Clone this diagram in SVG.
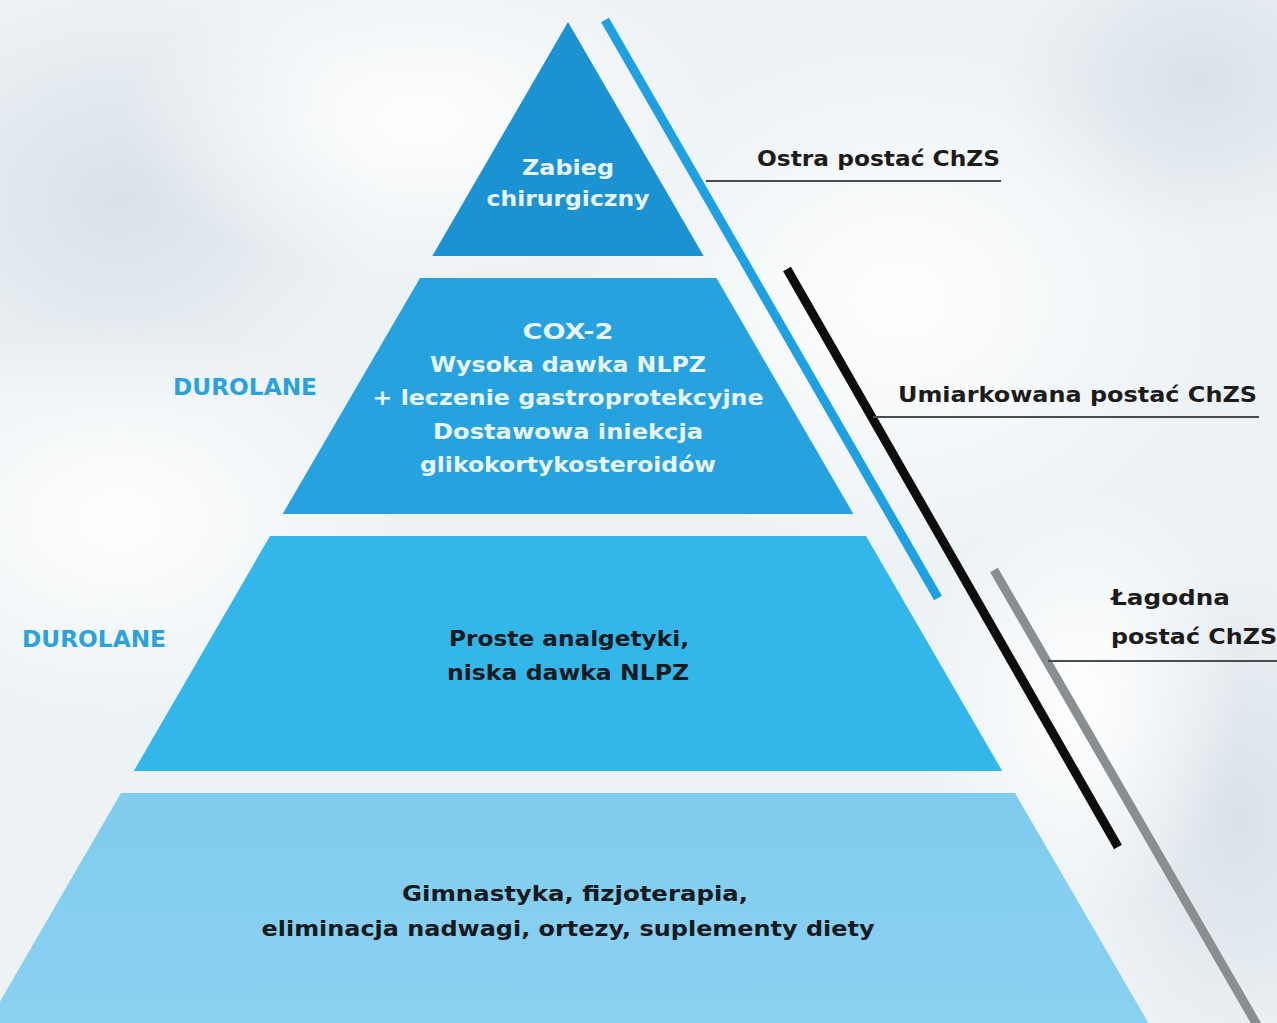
<svg xmlns="http://www.w3.org/2000/svg" width="1277" height="1023" viewBox="0 0 1277 1023">
  <defs>
    <radialGradient id="bgA" cx="0.5" cy="0.5" r="0.5">
      <stop offset="0" stop-color="#ffffff" stop-opacity="0.95"/>
      <stop offset="1" stop-color="#ffffff" stop-opacity="0"/>
    </radialGradient>
    <radialGradient id="bgB" cx="0.5" cy="0.5" r="0.5">
      <stop offset="0" stop-color="#d6dfe6" stop-opacity="0.85"/>
      <stop offset="1" stop-color="#d6dfe6" stop-opacity="0"/>
    </radialGradient>
    <linearGradient id="t4" x1="0" y1="0" x2="0" y2="1">
      <stop offset="0" stop-color="#80ccee"/>
      <stop offset="1" stop-color="#8ad1f1"/>
    </linearGradient>
    <style>
      .tier-w { font-family: "DejaVu Sans", "Liberation Sans", sans-serif; font-weight: bold; font-size: 22px; fill: #e8f5fc; text-anchor: middle; }
      .tier-k { font-family: "DejaVu Sans", "Liberation Sans", sans-serif; font-weight: bold; font-size: 22px; fill: #151a20; text-anchor: middle; }
      .brand { font-family: "DejaVu Sans", "Liberation Sans", sans-serif; font-weight: bold; font-size: 23px; fill: #2aa2dc; }
      .label { font-family: "DejaVu Sans", "Liberation Sans", sans-serif; font-weight: bold; font-size: 22px; fill: #1c1c1c; }
      .lead { stroke: #4a4d50; stroke-width: 2; fill: none; }
      .bar { fill: none; stroke-width: 9; stroke-linecap: butt; }
    </style>
  </defs>

  <!-- background -->
  <rect x="0" y="0" width="1277" height="1023" fill="#edf2f5"/>
  <ellipse cx="120" cy="200" rx="260" ry="220" fill="url(#bgB)"/>
  <ellipse cx="420" cy="120" rx="300" ry="160" fill="url(#bgA)"/>
  <ellipse cx="120" cy="520" rx="280" ry="200" fill="url(#bgA)"/>
  <ellipse cx="900" cy="300" rx="320" ry="260" fill="url(#bgA)"/>
  <ellipse cx="1200" cy="80" rx="200" ry="160" fill="url(#bgB)"/>
  <ellipse cx="1240" cy="820" rx="160" ry="260" fill="url(#bgB)"/>
  <ellipse cx="1080" cy="700" rx="160" ry="220" fill="url(#bgA)"/>

  <!-- pyramid tiers -->
  <g id="tier1">
    <polygon points="568,22 703.7,256 432.3,256" fill="#1b93d3"/>
    <text class="tier-w" x="568" y="175" textLength="92" lengthAdjust="spacingAndGlyphs">Zabieg</text>
    <text class="tier-w" x="568" y="206" textLength="163" lengthAdjust="spacingAndGlyphs">chirurgiczny</text>
  </g>
  <g id="tier2">
    <polygon points="420,278 716.5,278 853.4,514 282.6,514" fill="#26a2de"/>
    <text class="tier-w" x="568" y="339" textLength="91" lengthAdjust="spacingAndGlyphs">COX-2</text>
    <text class="tier-w" x="568" y="372" textLength="276" lengthAdjust="spacingAndGlyphs">Wysoka dawka NLPZ</text>
    <text class="tier-w" x="568" y="405" textLength="391" lengthAdjust="spacingAndGlyphs">+ leczenie gastroprotekcyjne</text>
    <text class="tier-w" x="568" y="439" textLength="270" lengthAdjust="spacingAndGlyphs">Dostawowa iniekcja</text>
    <text class="tier-w" x="568" y="472" textLength="296" lengthAdjust="spacingAndGlyphs">glikokortykosteroidów</text>
  </g>
  <g id="tier3">
    <polygon points="270,536 866,536 1002.2,771 133.8,771" fill="#33b7ea"/>
    <text class="tier-k" x="569" y="646" textLength="240" lengthAdjust="spacingAndGlyphs">Proste analgetyki,</text>
    <text class="tier-k" x="568" y="680" textLength="242" lengthAdjust="spacingAndGlyphs">niska dawka NLPZ</text>
  </g>
  <g id="tier4">
    <polygon points="121,793 1015,793 1148.4,1023 -12.4,1023" fill="url(#t4)"/>
    <text class="tier-k" x="575" y="901" textLength="346" lengthAdjust="spacingAndGlyphs">Gimnastyka, fizjoterapia,</text>
    <text class="tier-k" x="568" y="936" textLength="613" lengthAdjust="spacingAndGlyphs">eliminacja nadwagi, ortezy, suplementy diety</text>
  </g>

  <!-- side labels -->
  <g id="durolane1">
    <text class="brand" x="173" y="395" textLength="144" lengthAdjust="spacingAndGlyphs">DUROLANE</text>
  </g>
  <g id="durolane2">
    <text class="brand" x="22" y="647" textLength="144" lengthAdjust="spacingAndGlyphs">DUROLANE</text>
  </g>
  <g id="label-ostra">
    <text class="label" x="757" y="166" textLength="243" lengthAdjust="spacingAndGlyphs">Ostra postać ChZS</text>
  </g>
  <g id="label-umiarkowana">
    <text class="label" x="898" y="402" textLength="359" lengthAdjust="spacingAndGlyphs">Umiarkowana postać ChZS</text>
  </g>
  <g id="label-lagodna">
    <text class="label" x="1111" y="605" textLength="119" lengthAdjust="spacingAndGlyphs">Łagodna</text>
    <text class="label" x="1111" y="644" textLength="166" lengthAdjust="spacingAndGlyphs">postać ChZS</text>
  </g>

  <!-- connectors -->
  <g id="connectors">
    <line class="bar" x1="605" y1="20" x2="938" y2="598" stroke="#1ea1e0"/>
    <line class="bar" x1="787" y1="269" x2="1118" y2="847" stroke="#0d0d0d"/>
    <line class="bar" x1="994" y1="570" x2="1260" y2="1030" stroke="#8b8e91"/>
    <line class="lead" x1="706" y1="181" x2="1001" y2="181"/>
    <line class="lead" x1="873" y1="417" x2="1259" y2="417"/>
    <line class="lead" x1="1048" y1="661" x2="1277" y2="661"/>
  </g>
</svg>
